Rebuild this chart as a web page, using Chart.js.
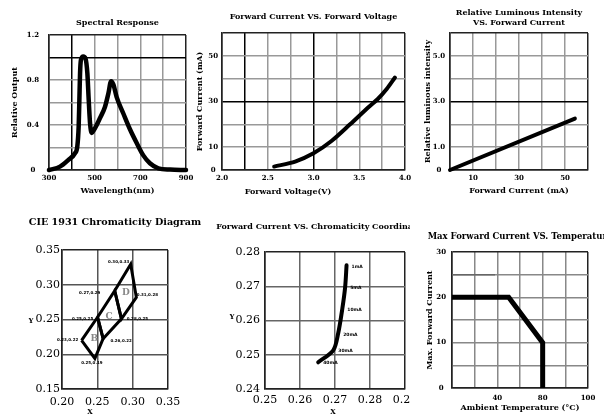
<!DOCTYPE html>
<html>
<head>
<meta charset="utf-8">
<title>LED characteristics</title>
<script src="https://cdn.jsdelivr.net/npm/chart.js@4.4.1/dist/chart.umd.min.js"></script>
<style>
  html, body { margin: 0; padding: 0; background: #fff; }
  body { position: relative; width: 604px; height: 416px; overflow: hidden; }
  canvas { position: absolute; }
</style>
</head>
<body>
<canvas id="spectral" width="200" height="200" style="left:0;top:0"></canvas>
<canvas id="ivcurve" width="220" height="200" style="left:195px;top:0"></canvas>
<canvas id="intensity" width="189" height="200" style="left:415px;top:0"></canvas>
<canvas id="cie" width="210" height="216" style="left:0;top:200px"></canvas>
<canvas id="chroma" width="205" height="216" style="left:205px;top:200px"></canvas>
<canvas id="derating" width="194" height="216" style="left:410px;top:200px"></canvas>
<script>
// ---- data ----
const wavelength = [300, 348, 385, 414, 424, 430, 433, 436, 440, 450, 460, 468, 474, 480, 487, 501, 523, 545, 560, 572, 582, 596, 626, 655, 684, 713, 742, 779, 830, 900];
const relOutput  = [0, 0.03, 0.09, 0.15, 0.21, 0.39, 0.62, 0.86, 0.98, 1.01, 0.99, 0.86, 0.62, 0.41, 0.33, 0.37, 0.46, 0.56, 0.68, 0.79, 0.76, 0.65, 0.50, 0.36, 0.24, 0.13, 0.06, 0.015, 0.004, 0];

const fwdVoltage = [2.57, 2.8, 3.0, 3.2, 3.4, 3.6, 3.7, 3.8, 3.89];
const fwdCurrent = [1.5, 3.7, 7.3, 12.8, 20, 27.5, 31, 35.5, 40.5];

const ivCurrent   = [0, 54.3];
const ivIntensity = [0, 2.25];

// CIE bin corners: left, B/C left, C/D left, top, right, C/D right, B/C right, bottom
const cieX = [0.2277, 0.2503, 0.2746, 0.2972, 0.3052, 0.2841, 0.2582, 0.2465];
const cieY = [0.2200, 0.2533, 0.2914, 0.3296, 0.2819, 0.2510, 0.2224, 0.1939];
const binNames = ['B', 'C', 'D'];
const binLoops = [[0, 1, 6, 7, 0], [1, 2, 5, 6, 1], [2, 3, 4, 5, 2]];

const ccCurrent = ['1mA', '5mA', '10mA', '20mA', '30mA', '40mA'];
const ccX = [0.2733, 0.2729, 0.2721, 0.2709, 0.2695, 0.2652];
const ccY = [0.2761, 0.2698, 0.2635, 0.2562, 0.2513, 0.2478];

const ambientTemp = [0, 50, 80, 80];
const maxCurrent  = [20, 20, 10, 0];
const guideTemp    = [0, 38];
const guideCurrent = [25, 25];

// tick labels that are printed
const specXTicks = [300, 500, 700, 900];
const specYTicks = [0, 0.4, 0.8, 1.2];
const ivXTicks = [2, 2.5, 3, 3.5, 4];
const ivYTicks = [0, 10, 30, 50];
const lumXTicks = [10, 30, 50];
const lumYTicks = [0, 1, 3, 5];
const tempTickAt = [40, 80, 120];
const tempTickText = ['40', '80', '100'];
const derYTicks = [0, 10, 20, 30];

// ---- helpers ----
const SERIF = '"DejaVu Serif", serif';
const tickFont = { family: SERIF, size: 7, weight: 'bold', lineHeight: 1 };
const bigTick  = { family: SERIF, size: 11, lineHeight: 1 };
const axisFont = { family: SERIF, size: 8, weight: 'bold', lineHeight: 1 };
const axisFontCss = 'bold 8px ' + SERIF;

const near = (a, b) => Math.abs(a - b) < 1e-9;
const shown = (list, fmt) => v => (list.some(s => near(s, v)) ? fmt(v) : '');
const oneDec = v => (v === 0 ? '0' : v.toFixed(1));
const twoDec = v => v.toFixed(2);

function gridColor(dark, base) {
  return c => {
    if (!c.tick) return base;
    if (c.index === 0 || c.index === c.scale.ticks.length - 1) return '#222';
    return dark.some(d => near(d, c.tick.value)) ? '#000' : base;
  };
}

function axis(o) {
  const left = o.pos === 'left';
  return {
    type: 'linear',
    position: o.pos,
    min: o.min,
    max: o.max,
    grid: { drawTicks: false, lineWidth: 1.5, color: gridColor(o.dark || [], o.grid || '#999') },
    border: { color: '#222', width: 1.5 },
    ticks: {
      stepSize: o.step, autoSkip: false, maxRotation: 0, padding: o.pad,
      crossAlign: o.cross || 'near', color: '#000', font: o.font || tickFont, callback: o.cb
    },
    title: {
      display: !!o.title, text: o.title || '', color: '#000', font: axisFont,
      padding: left ? { top: o.tpad || 0, bottom: 0 } : { top: 0, bottom: o.tpad || 0 }
    },
    afterFit: s => {
      if (left) { s.width = o.size; }
      else { s.height = o.size; s.paddingLeft = 0; s.paddingRight = 0; }
    }
  };
}

function series(xs, ys, extra) {
  return Object.assign({
    data: xs.map((x, i) => ({ x, y: ys[i] })),
    showLine: true, pointRadius: 0, borderColor: '#000', borderWidth: 4,
    clip: 8, borderJoinStyle: 'round', borderCapStyle: 'round'
  }, extra);
}

// titles and loose text drawn on top of each panel
function notes(spec) {
  return {
    id: 'notes',
    afterDraw(chart) {
      const { ctx, chartArea: a } = chart;
      ctx.save();
      ctx.textAlign = 'center';
      ctx.textBaseline = 'middle';
      ctx.fillStyle = '#000';
      ctx.font = spec.font;
      const cx = (a.left + a.right) / 2 + (spec.dx || 0);
      spec.title.forEach((t, i) => ctx.fillText(t, cx, spec.y + i * 10));
      (spec.labels || []).forEach(l => {
        ctx.font = l.font || axisFontCss;
        ctx.fillText(l.text, l.x, l.y);
      });
      if (spec.after) spec.after(chart, ctx);
      ctx.restore();
    }
  };
}

function makeChart(id, datasets, scales, padding, plugin) {
  return new Chart(document.getElementById(id), {
    type: 'scatter',
    data: { datasets },
    options: {
      responsive: false,
      animation: false,
      events: [],
      layout: { padding },
      scales,
      plugins: { legend: { display: false }, tooltip: { enabled: false } }
    },
    plugins: [plugin]
  });
}

// =====================
// Spectral response
// =====================
makeChart('spectral',
  [series(wavelength, relOutput, { cubicInterpolationMode: 'monotone', borderWidth: 4.5 })],
  {
    x: axis({ pos: 'bottom', min: 300, max: 900, step: 100, size: 30, pad: 4.5, dark: [400],
              title: 'Wavelength(nm)', tpad: 5, cb: shown(specXTicks, String) }),
    y: axis({ pos: 'left', min: 0, max: 1.2, step: 0.2, size: 49, pad: 10, cross: 'center', dark: [1],
              title: 'Relative Output', tpad: 11, cb: shown(specYTicks, oneDec) })
  },
  { left: 0, top: 35, right: 14, bottom: 0 },
  notes({ title: ['Spectral Response'], y: 22.5, font: 'bold 8px ' + SERIF })
);

// =====================
// Forward current vs forward voltage
// =====================
makeChart('ivcurve',
  [series(fwdVoltage, fwdCurrent, { tension: 0.3 })],
  {
    x: axis({ pos: 'bottom', min: 2, max: 4, step: 0.25, size: 30, pad: 4.5, dark: [2.25, 3],
              cb: shown(ivXTicks, v => v.toFixed(1)) }),
    y: axis({ pos: 'left', min: 0, max: 60, step: 10, size: 27, pad: 4, cross: 'center', dark: [30],
              title: 'Forward Current (mA)', tpad: 1, cb: shown(ivYTicks, String) })
  },
  { left: 0, top: 33, right: 10, bottom: 0 },
  notes({ title: ['Forward Current VS. Forward Voltage'], y: 16.5, font: 'bold 8px ' + SERIF,
          labels: [{ text: 'Forward Voltage(V)', x: 93, y: 191.5 }] })
);

// =====================
// Relative luminous intensity vs forward current
// =====================
makeChart('intensity',
  [series(ivCurrent, ivIntensity)],
  {
    x: axis({ pos: 'bottom', min: 0, max: 60, step: 10, size: 30, pad: 4.5,
              title: 'Forward Current (mA)', tpad: 5, cb: shown(lumXTicks, String) }),
    y: axis({ pos: 'left', min: 0, max: 6, step: 1, size: 35, pad: 5, cross: 'center', dark: [3],
              title: 'Relative luminous intensity', tpad: 9, cb: shown(lumYTicks, oneDec) })
  },
  { left: 0, top: 33, right: 16, bottom: 0 },
  notes({ title: ['Relative Luminous Intensity', 'VS. Forward Current'], y: 13.3, font: 'bold 8px ' + SERIF })
);

// =====================
// CIE 1931 bins
// =====================
const tagShift = [[-14, 0], [-15, 2], [-25, 2], [-12, -2], [11, -2], [16, 0], [18, 2], [-3, 4]];
makeChart('cie',
  binLoops.map(loop => series(loop.map(i => cieX[i]), loop.map(i => cieY[i]),
    { borderWidth: 3, borderJoinStyle: 'miter', borderCapStyle: 'butt' })),
  {
    x: axis({ pos: 'bottom', min: 0.2, max: 0.35, step: 0.05, size: 27, pad: 7.5, grid: '#555',
              font: bigTick, cb: twoDec }),
    y: axis({ pos: 'left', min: 0.15, max: 0.35, step: 0.05, size: 62, pad: 2, grid: '#555',
              font: bigTick, cb: twoDec })
  },
  { left: 0, top: 50, right: 42, bottom: 0 },
  notes({
    title: ['CIE 1931 Chromaticity Diagram'], y: 22, font: 'bold 9.6px ' + SERIF,
    labels: [{ text: 'Y', x: 31, y: 121, font: 'bold 7px ' + SERIF }, { text: 'X', x: 90, y: 212, font: 'bold 7px ' + SERIF }],
    after(chart, ctx) {
      const sx = chart.scales.x, sy = chart.scales.y;
      ctx.font = 'bold 4px "DejaVu Sans"';
      cieX.forEach((x, i) => {
        ctx.fillText(x.toFixed(2) + ',' + cieY[i].toFixed(2),
          sx.getPixelForValue(x) + tagShift[i][0], sy.getPixelForValue(cieY[i]) + tagShift[i][1]);
      });
      ctx.font = 'bold 9px ' + SERIF;
      ctx.fillStyle = '#888';
      binLoops.forEach((loop, b) => {
        const pts = loop.slice(0, 4);
        const cx = pts.reduce((s, i) => s + cieX[i], 0) / 4;
        const cy = pts.reduce((s, i) => s + cieY[i], 0) / 4;
        ctx.fillText(binNames[b], sx.getPixelForValue(cx), sy.getPixelForValue(cy));
      });
    }
  })
);

// =====================
// Forward current vs chromaticity coordinate
// =====================
makeChart('chroma',
  [series(ccX, ccY, { tension: 0.3 })],
  {
    x: axis({ pos: 'bottom', min: 0.25, max: 0.29, step: 0.01, size: 27, pad: 5.5, grid: '#666',
              font: bigTick, cb: twoDec }),
    y: axis({ pos: 'left', min: 0.24, max: 0.28, step: 0.01, size: 60, pad: 5, grid: '#666',
              font: bigTick, cb: twoDec })
  },
  { left: 0, top: 52, right: 5, bottom: 0 },
  notes({
    title: ['Forward Current VS. Chromaticity Coordinate'], y: 27, dx: -16, font: 'bold 8px ' + SERIF,
    labels: [{ text: 'Y', x: 27, y: 117, font: 'bold 7px ' + SERIF }, { text: 'X', x: 128, y: 212, font: 'bold 7px ' + SERIF }],
    after(chart, ctx) {
      const sx = chart.scales.x, sy = chart.scales.y;
      ctx.font = 'bold 4.5px "DejaVu Sans"';
      ctx.textAlign = 'left';
      ccCurrent.forEach((t, i) => ctx.fillText(t, sx.getPixelForValue(ccX[i]) + 5, sy.getPixelForValue(ccY[i]) + 1));
    }
  })
);

// =====================
// Max forward current vs temperature
// =====================
makeChart('derating',
  [
    series(guideTemp, guideCurrent, { borderWidth: 1.5, borderColor: '#666', borderCapStyle: 'butt' }),
    series(ambientTemp, maxCurrent, { borderWidth: 5, borderJoinStyle: 'miter', borderCapStyle: 'butt' })
  ],
  {
    x: axis({ pos: 'bottom', min: 0, max: 120, step: 20, size: 28, pad: 6.5, grid: '#888',
              title: 'Ambient Temperature (°C)', tpad: 4,
              cb: v => { const i = tempTickAt.indexOf(v); return i < 0 ? '' : tempTickText[i]; } }),
    y: axis({ pos: 'left', min: 0, max: 30, step: 5, size: 42, pad: 6, cross: 'center', grid: '#888',
              title: 'Max. Forward Current', tpad: 16, cb: shown(derYTicks, String) })
  },
  { left: 0, top: 52, right: 16, bottom: 0 },
  notes({ title: ['Max Forward Current VS. Temperature'], y: 37, font: 'bold 8.5px ' + SERIF })
);
</script>
</body>
</html>
